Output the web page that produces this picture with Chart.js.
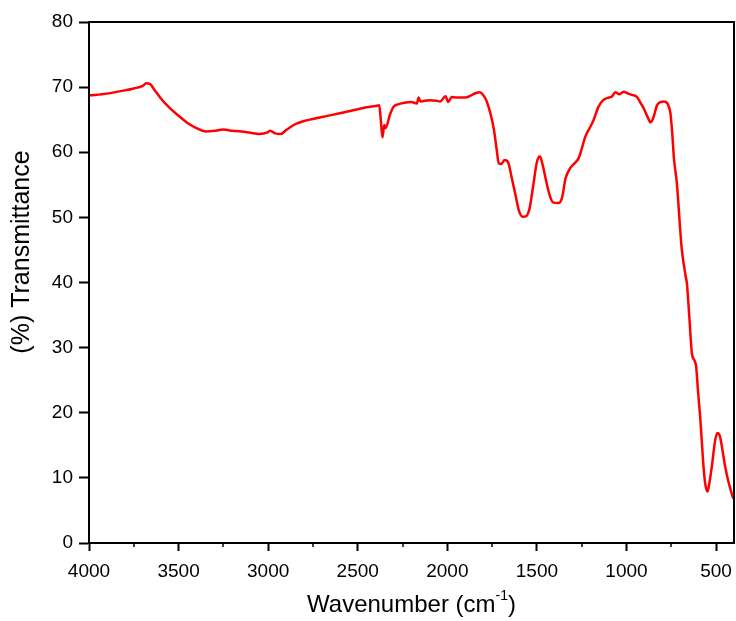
<!DOCTYPE html>
<html>
<head>
<meta charset="utf-8">
<title>FTIR spectrum</title>
<script src="https://cdn.jsdelivr.net/npm/chart.js@4/dist/chart.umd.min.js"></script>
<style>
  html, body { margin: 0; padding: 0; background: #fff; }
  #wrap { width: 736px; height: 621px; position: relative; }
</style>
</head>
<body>
<div id="wrap"><canvas id="ftir"></canvas></div>
<script>
// Wavenumber (cm^-1), high to low
const wavenumbers = [
  4000, 3900, 3800, 3750, 3700, 3680, 3660, 3640, 3600, 3550,
  3500, 3450, 3400, 3350, 3300, 3250, 3200, 3150, 3100, 3050,
  3000, 2990, 2960, 2930, 2900, 2850, 2800, 2750, 2700, 2650,
  2600, 2550, 2500, 2450, 2400, 2380, 2370, 2362, 2352, 2345,
  2320, 2300, 2270, 2240, 2200, 2170, 2160, 2150, 2100, 2060,
  2040, 2010, 1995, 1975, 1950, 1900, 1870, 1840, 1820, 1800,
  1780, 1760, 1740, 1725, 1713, 1700, 1681, 1660, 1640, 1620,
  1600, 1580, 1560, 1540, 1520, 1500, 1484, 1470, 1450, 1430,
  1410, 1380, 1360, 1340, 1313, 1290, 1267, 1250, 1230, 1200,
  1183, 1156, 1130, 1100, 1080, 1063, 1040, 1016, 990, 970,
  942, 920, 905, 880, 867, 850, 830, 810, 790, 770,
  755, 745, 735, 719, 700, 691, 670, 663, 650, 635,
  620, 611, 600, 589, 570, 560, 548, 540, 524, 505,
  492, 480, 474, 460, 449, 431, 420, 413, 403
];

// Transmittance (%)
const transmittance = [
  68.7, 69.0, 69.5, 69.8, 70.2, 70.6, 70.5, 69.8, 68.3, 66.8,
  65.6, 64.5, 63.7, 63.2, 63.3, 63.5, 63.3, 63.2, 63.0, 62.8,
  63.1, 63.3, 62.9, 62.8, 63.4, 64.3, 64.8, 65.1, 65.4, 65.7,
  66.0, 66.3, 66.6, 66.9, 67.1, 67.2, 64.5, 62.3, 64.2, 63.7,
  65.8, 67.0, 67.4, 67.6, 67.7, 67.5, 68.4, 67.8, 68.0, 67.9,
  67.8, 68.6, 67.7, 68.5, 68.4, 68.4, 68.7, 69.1, 69.2, 68.8,
  67.8, 66.0, 63.5, 60.5, 58.3, 58.2, 58.8, 58.4, 56.0, 53.5,
  51.0, 50.1, 50.2, 51.5, 55.0, 58.5, 59.4, 58.3, 55.8, 53.5,
  52.3, 52.2, 53.0, 56.0, 57.6, 58.3, 59.1, 60.5, 62.4, 64.0,
  65.0, 67.0, 68.0, 68.4, 68.6, 69.2, 68.9, 69.3, 69.0, 68.8,
  68.5, 67.5, 66.8, 65.3, 64.6, 65.3, 67.2, 67.7, 67.8, 67.4,
  66.0, 63.0, 59.0, 55.3, 48.0, 45.0, 41.0, 39.9, 35.0, 29.1,
  28.0, 27.0, 23.0, 19.4, 11.7, 9.0, 7.9, 8.8, 11.7, 15.8,
  16.9, 16.5, 15.8, 13.5, 11.7, 9.4, 8.3, 7.6, 6.8
];

// Axis ticks
const xMajorTicks = [4000, 3500, 3000, 2500, 2000, 1500, 1000, 500];
const xMinorTicks = [3750, 3250, 2750, 2250, 1750, 1250, 750];
const yTicks = [0, 10, 20, 30, 40, 50, 60, 70, 80];

const FONT = '"Liberation Sans", Arial, Helvetica, sans-serif';

const points = wavenumbers.map((w, i) => ({ x: w, y: transmittance[i] }));

// Frame, minor ticks and axis titles (title has a superscript)
const decorations = {
  id: 'decorations',
  afterDraw(chart) {
    const { ctx, chartArea: a, scales } = chart;
    ctx.save();
    ctx.strokeStyle = '#000';
    ctx.lineWidth = 2;
    ctx.strokeRect(a.left, a.top, a.right - a.left, a.bottom - a.top);

    // minor ticks on the wavenumber axis
    ctx.lineWidth = 1.5;
    xMinorTicks.forEach(v => {
      const px = Math.round(scales.x.getPixelForValue(v));
      ctx.beginPath();
      ctx.moveTo(px, a.bottom);
      ctx.lineTo(px, a.bottom + 4);
      ctx.stroke();
    });

    ctx.fillStyle = '#000';
    // x title with superscript
    const mainFont = '24px ' + FONT;
    const supFont = '14px ' + FONT;
    const p1 = 'Wavenumber (cm', sup = '-1', p2 = ')';
    ctx.font = mainFont;
    const w1 = ctx.measureText(p1).width;
    const w3 = ctx.measureText(p2).width;
    ctx.font = supFont;
    const w2 = ctx.measureText(sup).width;
    const total = w1 + w2 + w3;
    const cx = (a.left + a.right) / 2;
    const x0 = cx - total / 2;
    const base = 612;
    ctx.textBaseline = 'alphabetic';
    ctx.textAlign = 'left';
    ctx.font = mainFont;
    ctx.fillText(p1, x0, base);
    ctx.font = supFont;
    ctx.fillText(sup, x0 + w1, base - 12);
    ctx.font = mainFont;
    ctx.fillText(p2, x0 + w1 + w2, base);

    // y title
    ctx.translate(22, 252);
    ctx.rotate(-Math.PI / 2);
    ctx.textAlign = 'center';
    ctx.textBaseline = 'middle';
    ctx.font = '25px ' + FONT;
    ctx.fillText('(%) Transmittance', 0, 0);
    ctx.restore();
  }
};

new Chart(document.getElementById('ftir'), {
  type: 'line',
  data: {
    datasets: [{
      data: points,
      borderColor: '#ff0000',
      borderWidth: 2.5,
      pointRadius: 0,
      fill: false,
      cubicInterpolationMode: 'monotone'
    }]
  },
  options: {
    responsive: true,
    maintainAspectRatio: false,
    animation: false,
    layout: { padding: { top: 22, right: 2, left: 0, bottom: 0 } },
    plugins: { legend: { display: false }, tooltip: { enabled: false } },
    scales: {
      x: {
        type: 'linear',
        reverse: true,
        min: 400,
        max: 4000,
        afterBuildTicks(scale) { scale.ticks = xMajorTicks.map(v => ({ value: v })); },
        afterFit(scale) { scale.height = 78; scale.paddingLeft = 0; scale.paddingRight = 0; },
        grid: { drawOnChartArea: false, drawTicks: true, tickLength: 8, tickWidth: 2, tickColor: '#000' },
        border: { display: true, color: '#000', width: 2 },
        ticks: {
          color: '#000', font: { family: FONT, size: 19 }, padding: 9,
          maxRotation: 0, autoSkip: false,
          callback: v => String(v)
        }
      },
      y: {
        min: 0,
        max: 80,
        afterBuildTicks(scale) { scale.ticks = yTicks.map(v => ({ value: v })); },
        afterFit(scale) { scale.width = 89; scale.paddingTop = 0; scale.paddingBottom = 0; },
        grid: { drawOnChartArea: false, drawTicks: true, tickLength: 10, tickWidth: 2, tickColor: '#000' },
        border: { display: true, color: '#000', width: 2 },
        ticks: { color: '#000', font: { family: FONT, size: 19 }, padding: 6, callback: v => String(v) }
      }
    }
  },
  plugins: [decorations]
});
</script>
</body>
</html>
